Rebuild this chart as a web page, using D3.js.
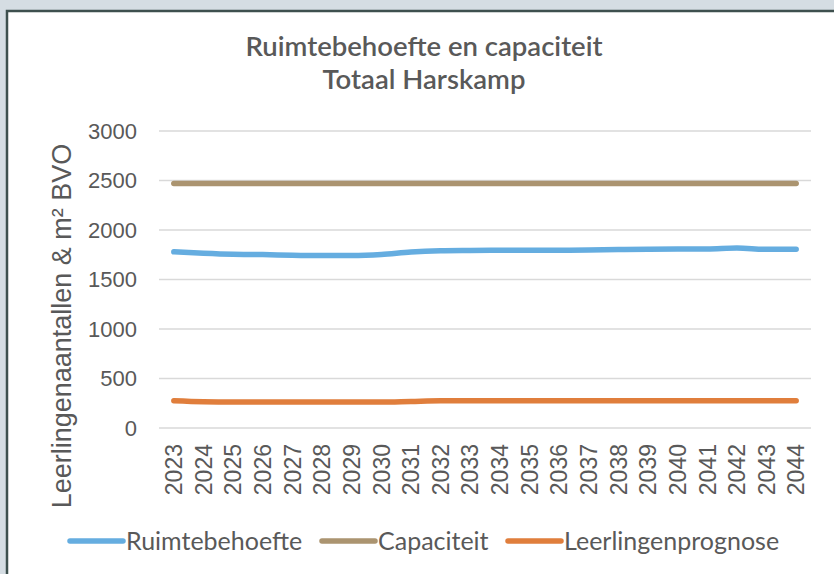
<!DOCTYPE html>
<html>
<head>
<meta charset="utf-8">
<script src="https://cdn.jsdelivr.net/npm/d3@7"></script>
<style>
  body { margin: 0; background: #d5dde3; }
  svg { display: block; }
</style>
</head>
<body>
<div id="chart"></div>
<script>
var years = ["2023","2024","2025","2026","2027","2028","2029","2030","2031","2032","2033",
             "2034","2035","2036","2037","2038","2039","2040","2041","2042","2043","2044"]
var ruimtebehoefte = [1780,1765,1755,1752,1745,1742,1742,1752,1778,1790,1793,
                      1795,1795,1795,1797,1803,1805,1807,1808,1818,1805,1805]
var capaciteit = [2470,2470,2470,2470,2470,2470,2470,2470,2470,2470,2470,
                  2470,2470,2470,2470,2470,2470,2470,2470,2470,2470,2470]
var leerlingen = [275,265,262,262,262,262,262,262,268,274,275,
                  275,275,275,275,275,275,275,275,275,275,275]
var yTicks = [0,500,1000,1500,2000,2500,3000]
var seriesNames = ["Ruimtebehoefte","Capaciteit","Leerlingenprognose"]
var seriesColors = ["#65ade0","#ab9470","#e07e3c"]

var width = 834, height = 574
var svg = d3.select("#chart").append("svg")
    .attr("width", width)
    .attr("height", height)

// white panel with dark border
svg.append("rect")
    .attr("x", 7).attr("y", 11)
    .attr("width", width).attr("height", height)
    .attr("fill", "#ffffff")
    .attr("stroke", "#3e504e")
    .attr("stroke-width", 2.5)

var titleFont = "Lato, 'Open Sans', sans-serif"
var axisFont = "'Liberation Sans', Arial, sans-serif"

svg.append("text")
    .attr("x", 424).attr("y", 56)
    .attr("text-anchor", "middle")
    .attr("font-family", titleFont)
    .attr("font-size", 27.5)
    .attr("font-weight", 600)
    .attr("fill", "#595959")
    .text("Ruimtebehoefte en capaciteit")
svg.append("text")
    .attr("x", 424).attr("y", 89)
    .attr("text-anchor", "middle")
    .attr("font-family", titleFont)
    .attr("font-size", 27.5)
    .attr("font-weight", 600)
    .attr("fill", "#595959")
    .text("Totaal Harskamp")

var x = d3.scaleBand().domain(years).range([159, 811])
var y = d3.scaleLinear().domain([0, 3000]).range([428, 131])

// gridlines
svg.append("g").selectAll("line")
    .data(yTicks)
    .enter().append("line")
    .attr("x1", 159).attr("x2", 811)
    .attr("y1", d => y(d)).attr("y2", d => y(d))
    .attr("stroke", "#d9d9d9")
    .attr("stroke-width", 1.5)

// y tick labels
svg.append("g").selectAll("text")
    .data(yTicks)
    .enter().append("text")
    .attr("x", 137)
    .attr("y", d => y(d))
    .attr("dy", "0.36em")
    .attr("text-anchor", "end")
    .attr("font-family", axisFont)
    .attr("font-size", 22)
    .attr("fill", "#595959")
    .text(d => d)

// x tick labels rotated
svg.append("g").selectAll("text")
    .data(years)
    .enter().append("text")
    .attr("transform", d => "translate(" + (x(d) + x.bandwidth() / 2) + ",444) rotate(-90)")
    .attr("dy", "0.36em")
    .attr("text-anchor", "end")
    .attr("font-family", axisFont)
    .attr("font-size", 23)
    .attr("fill", "#595959")
    .text(d => d)

// y axis title
svg.append("text")
    .attr("transform", "translate(61,326) rotate(-90)")
    .attr("dy", "0.36em")
    .attr("text-anchor", "middle")
    .attr("font-family", axisFont)
    .attr("font-size", 27)
    .attr("fill", "#595959")
    .text("Leerlingenaantallen & m² BVO")

var line = d3.line()
    .x((d, i) => x(years[i]) + x.bandwidth() / 2)
    .y(d => y(d))
    .curve(d3.curveMonotoneX)

var allSeries = [ruimtebehoefte, capaciteit, leerlingen]
svg.append("g").selectAll("path")
    .data(allSeries)
    .enter().append("path")
    .attr("d", line)
    .attr("fill", "none")
    .attr("stroke", (d, i) => seriesColors[i])
    .attr("stroke-width", 5.5)
    .attr("stroke-linecap", "round")
    .attr("stroke-linejoin", "round")

// legend
var legendX = [68, 320, 506]
var legend = svg.append("g").selectAll("g")
    .data(seriesNames)
    .enter().append("g")
    .attr("transform", (d, i) => "translate(" + legendX[i] + ",541)")
legend.append("line")
    .attr("x1", 2).attr("x2", 55)
    .attr("stroke", (d, i) => seriesColors[i])
    .attr("stroke-width", 5.5)
    .attr("stroke-linecap", "round")
legend.append("text")
    .attr("x", 58)
    .attr("dy", "0.36em")
    .attr("font-family", titleFont)
    .attr("font-size", 25)
    .attr("fill", "#595959")
    .text(d => d)
</script>
</body>
</html>
